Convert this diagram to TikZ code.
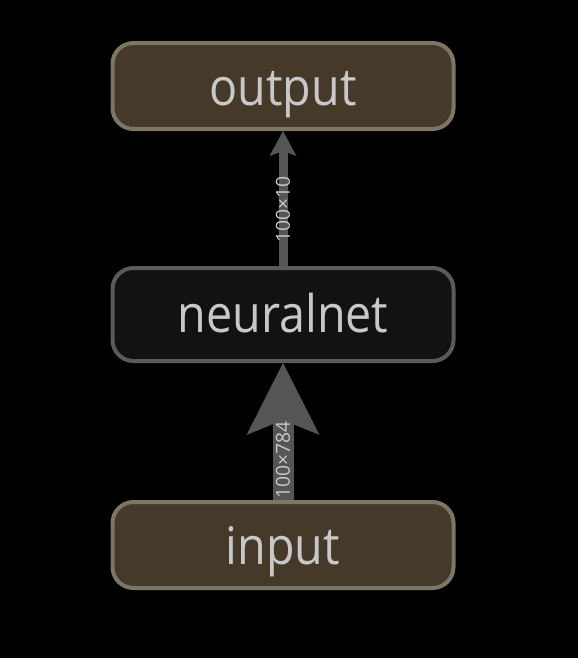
\documentclass[tikz,border=0pt]{standalone}
\usepackage{fontspec}
\setmainfont{Open Sans}
\newfontfamily\boxfont[FakeStretch=0.9]{Open Sans}
\usepackage{xcolor}
\usepackage{tikz}
\usetikzlibrary{arrows.meta, positioning}
\definecolor{pagebg}{HTML}{000000}
\definecolor{layerfill}{HTML}{45392A}
\definecolor{layerdraw}{HTML}{7D7565}
\definecolor{modfill}{HTML}{121212}
\definecolor{moddraw}{HTML}{5A5A5A}
\definecolor{textmain}{HTML}{C8C8C8}
\definecolor{edgegray}{HTML}{555555}
\tikzstyle{layer} = [rectangle, rounded corners=0.42cm, minimum width=6.82cm, minimum height=1.72cm, line width=0.08cm, draw=layerdraw, fill=layerfill, text=textmain, text height=0.76cm, text depth=0cm, font=\boxfont\fontsize{29.5}{34}\selectfont]
\tikzstyle{module} = [layer, minimum height=1.86cm, text height=0.7cm, draw=moddraw, fill=modfill]
\tikzstyle{thinflow} = [line width=0.18cm, draw=edgegray, -{Stealth[length=0.5cm, width=0.54cm, inset=0.1cm, line width=0pt]}]
\tikzstyle{thickflow} = [line width=0.42cm, draw=edgegray, -{Stealth[length=1.44cm, width=1.46cm, inset=0.3cm, line width=0pt]}]
\tikzstyle{dims} = [sloped, inner sep=0pt, text=textmain, font=\fontsize{11}{12}\selectfont]

\begin{document}
\begin{tikzpicture}
    \fill[pagebg] (0,0) rectangle (11.56,-13.16);
    \node[layer] (out) at (5.66,-1.72) {output};
    \node[module, below=2.7cm of out] (nn) {neuralnet};
    \node[layer, below=2.74cm of nn] (in) {input};

    \draw[thickflow] (in) -- node[dims, pos=0.29] {100×784} (nn);
    \draw[thinflow] (nn) -- node[dims, pos=0.42] {100×10} (out);
\end{tikzpicture}
\end{document}
